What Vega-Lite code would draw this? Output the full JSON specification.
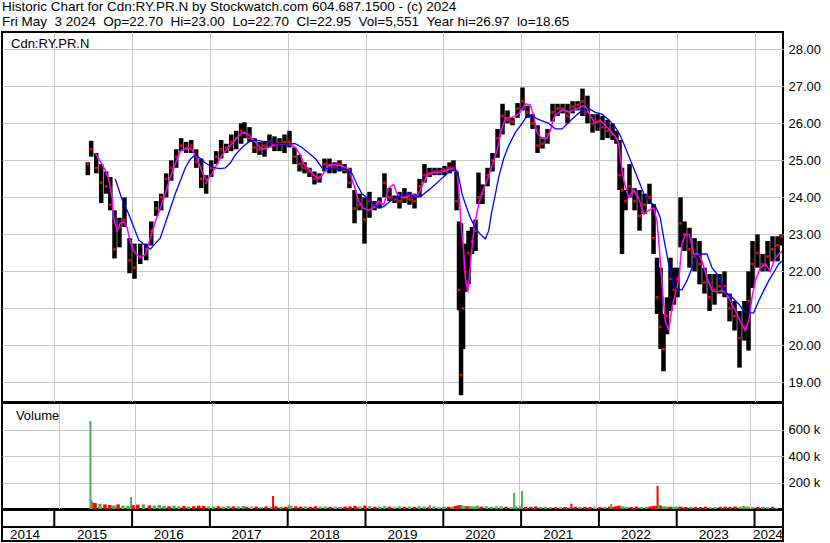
{
  "$schema": "https://vega.github.io/schema/vega-lite/v6.json",
  "background": "white",
  "padding": 0,
  "autosize": {"type": "pad"},
  "spacing": 1,
  "bounds": "flush",
  "config": {
    "font": "Liberation Sans",
    "view": {"stroke": "black", "strokeWidth": 2},
    "axis": {"labelFont": "Liberation Sans", "labelFontSize": 13, "labelColor": "black", "gridColor": "#c8c8c8", "gridWidth": 1, "gridOpacity": 1, "ticks": false, "domain": false},
    "title": {"font": "Liberation Sans", "fontWeight": "normal", "color": "black"}
  },
  "title": {
    "text": ["Historic Chart for Cdn:RY.PR.N by Stockwatch.com 604.687.1500 - (c) 2024", "Fri May\u00a0\u00a03 2024\u00a0\u00a0Op=22.70\u00a0\u00a0Hi=23.00\u00a0\u00a0Lo=22.70\u00a0\u00a0Cl=22.95\u00a0\u00a0Vol=5,551\u00a0\u00a0Year hi=26.97\u00a0\u00a0lo=18.65"],
    "anchor": "start", "fontSize": 13.5, "lineHeight": 14.5, "offset": 3, "dx": 2, "color": "black", "fontWeight": "normal"
  },
  "datasets": {
    "bars": [
      {"t":2015.431,"h":24.95,"l":24.6,"c":24.9},{"t":2015.474,"h":25.53,"l":25.1,"c":25.3},{"t":2015.539,"h":25.2,"l":24.65,"c":24.8},{"t":2015.603,"h":24.9,"l":23.85,"c":24.4},{"t":2015.667,"h":24.7,"l":24.1,"c":24.3},{"t":2015.72,"h":24.55,"l":23.65,"c":23.8},{"t":2015.774,"h":23.65,"l":22.35,"c":22.6},{"t":2015.838,"h":23.45,"l":22.65,"c":23.2},{"t":2015.902,"h":24.0,"l":23.2,"c":23.4},{"t":2015.967,"h":22.9,"l":21.95,"c":22.3},
      {"t":2016.031,"h":22.75,"l":21.8,"c":22.1},{"t":2016.105,"h":22.75,"l":22.2,"c":22.4},{"t":2016.181,"h":22.75,"l":22.3,"c":22.6},{"t":2016.246,"h":23.35,"l":22.7,"c":23.1},{"t":2016.31,"h":23.9,"l":23.5,"c":23.7},{"t":2016.374,"h":24.1,"l":23.65,"c":24.0},{"t":2016.438,"h":24.65,"l":24.0,"c":24.5},{"t":2016.503,"h":25.0,"l":24.45,"c":24.8},{"t":2016.567,"h":25.3,"l":24.8,"c":25.1},{"t":2016.631,"h":25.6,"l":25.25,"c":25.4},
      {"t":2016.695,"h":25.5,"l":25.2,"c":25.3},{"t":2016.76,"h":25.55,"l":25.2,"c":25.4},{"t":2016.824,"h":25.3,"l":24.8,"c":24.95},{"t":2016.888,"h":25.05,"l":24.25,"c":24.5},{"t":2016.952,"h":24.6,"l":24.1,"c":24.4},{"t":2017.017,"h":25.0,"l":24.55,"c":24.8},{"t":2017.081,"h":25.25,"l":24.9,"c":25.1},{"t":2017.145,"h":25.55,"l":25.05,"c":25.3},{"t":2017.21,"h":25.45,"l":25.2,"c":25.35},{"t":2017.274,"h":25.7,"l":25.25,"c":25.5},
      {"t":2017.338,"h":25.8,"l":25.3,"c":25.6},{"t":2017.402,"h":26.0,"l":25.45,"c":25.8},{"t":2017.445,"h":26.03,"l":25.6,"c":25.75},{"t":2017.509,"h":25.9,"l":25.5,"c":25.6},{"t":2017.573,"h":25.6,"l":25.2,"c":25.35},{"t":2017.638,"h":25.5,"l":25.15,"c":25.3},{"t":2017.702,"h":25.5,"l":25.1,"c":25.4},{"t":2017.766,"h":25.7,"l":25.35,"c":25.5},{"t":2017.83,"h":25.65,"l":25.25,"c":25.4},{"t":2017.895,"h":25.6,"l":25.25,"c":25.45},
      {"t":2017.959,"h":25.7,"l":25.2,"c":25.5},{"t":2018.023,"h":25.8,"l":25.35,"c":25.5},{"t":2018.087,"h":25.35,"l":24.9,"c":25.1},{"t":2018.152,"h":25.15,"l":24.7,"c":24.9},{"t":2018.216,"h":24.95,"l":24.65,"c":24.8},{"t":2018.28,"h":24.8,"l":24.55,"c":24.7},{"t":2018.344,"h":24.7,"l":24.35,"c":24.5},{"t":2018.409,"h":24.65,"l":24.4,"c":24.55},{"t":2018.473,"h":25.05,"l":24.7,"c":24.9},{"t":2018.537,"h":25.05,"l":24.65,"c":24.85},
      {"t":2018.602,"h":24.95,"l":24.65,"c":24.8},{"t":2018.666,"h":25.0,"l":24.7,"c":24.9},{"t":2018.73,"h":24.9,"l":24.65,"c":24.75},{"t":2018.794,"h":24.8,"l":24.25,"c":24.4},{"t":2018.859,"h":24.2,"l":23.3,"c":23.7},{"t":2018.923,"h":24.1,"l":23.65,"c":23.8},{"t":2018.987,"h":24.0,"l":22.75,"c":23.4},{"t":2019.051,"h":24.15,"l":23.45,"c":23.9},{"t":2019.116,"h":23.9,"l":23.65,"c":23.75},{"t":2019.18,"h":24.0,"l":23.7,"c":23.85},
      {"t":2019.244,"h":24.65,"l":24.0,"c":24.4},{"t":2019.308,"h":24.25,"l":23.9,"c":24.0},{"t":2019.373,"h":24.05,"l":23.85,"c":23.95},{"t":2019.437,"h":24.15,"l":23.7,"c":23.9},{"t":2019.501,"h":24.25,"l":23.85,"c":24.0},{"t":2019.566,"h":24.15,"l":23.8,"c":23.95},{"t":2019.63,"h":24.1,"l":23.7,"c":23.9},{"t":2019.694,"h":24.5,"l":24.0,"c":24.3},{"t":2019.758,"h":24.9,"l":24.4,"c":24.6},{"t":2019.823,"h":24.8,"l":24.55,"c":24.65},
      {"t":2019.887,"h":24.8,"l":24.6,"c":24.7},{"t":2019.951,"h":24.8,"l":24.6,"c":24.7},{"t":2020.015,"h":24.85,"l":24.6,"c":24.75},{"t":2020.08,"h":24.95,"l":24.65,"c":24.8},{"t":2020.131,"h":25.0,"l":24.7,"c":24.8},{"t":2020.17,"h":24.7,"l":23.65,"c":23.9},{"t":2020.202,"h":23.35,"l":20.95,"c":21.5},{"t":2020.228,"h":23.3,"l":18.65,"c":19.2},{"t":2020.253,"h":22.0,"l":19.9,"c":21.0},{"t":2020.285,"h":22.75,"l":21.45,"c":22.0},
      {"t":2020.324,"h":23.1,"l":21.65,"c":22.5},{"t":2020.369,"h":23.2,"l":22.47,"c":22.8},{"t":2020.414,"h":23.4,"l":22.55,"c":23.1},{"t":2020.452,"h":24.67,"l":23.82,"c":24.0},{"t":2020.504,"h":24.35,"l":23.82,"c":24.1},{"t":2020.568,"h":24.8,"l":24.3,"c":24.6},{"t":2020.632,"h":25.2,"l":24.7,"c":25.0},{"t":2020.697,"h":25.85,"l":25.07,"c":25.6},{"t":2020.761,"h":26.53,"l":25.7,"c":26.2},{"t":2020.825,"h":26.35,"l":26.0,"c":26.1},
      {"t":2020.889,"h":26.15,"l":25.95,"c":26.05},{"t":2020.954,"h":26.55,"l":26.15,"c":26.4},{"t":2021.018,"h":26.97,"l":26.35,"c":26.6},{"t":2021.082,"h":26.48,"l":26.15,"c":26.3},{"t":2021.147,"h":26.25,"l":25.85,"c":26.0},{"t":2021.211,"h":25.95,"l":25.2,"c":25.4},{"t":2021.275,"h":25.62,"l":25.32,"c":25.45},{"t":2021.339,"h":25.85,"l":25.45,"c":25.7},{"t":2021.404,"h":26.53,"l":26.05,"c":26.3},{"t":2021.468,"h":26.53,"l":26.2,"c":26.4},
      {"t":2021.532,"h":26.53,"l":26.27,"c":26.4},{"t":2021.596,"h":26.53,"l":26.0,"c":26.2},{"t":2021.661,"h":26.6,"l":26.27,"c":26.45},{"t":2021.725,"h":26.6,"l":26.35,"c":26.5},{"t":2021.789,"h":26.94,"l":26.2,"c":26.6},{"t":2021.853,"h":26.75,"l":26.0,"c":26.3},{"t":2021.918,"h":26.25,"l":25.75,"c":26.0},{"t":2021.982,"h":26.25,"l":25.8,"c":26.05},{"t":2022.046,"h":26.2,"l":25.55,"c":25.9},{"t":2022.111,"h":26.1,"l":25.6,"c":25.8},
      {"t":2022.175,"h":26.0,"l":25.55,"c":25.7},{"t":2022.226,"h":25.8,"l":25.45,"c":25.6},{"t":2022.265,"h":25.55,"l":24.2,"c":24.6},{"t":2022.297,"h":24.8,"l":22.47,"c":24.2},{"t":2022.342,"h":24.2,"l":23.65,"c":23.9},{"t":2022.393,"h":24.9,"l":24.0,"c":24.3},{"t":2022.458,"h":24.25,"l":23.65,"c":23.9},{"t":2022.522,"h":24.2,"l":23.1,"c":23.5},{"t":2022.586,"h":24.1,"l":23.55,"c":23.8},{"t":2022.65,"h":24.37,"l":23.82,"c":24.0},
      {"t":2022.702,"h":23.82,"l":22.47,"c":22.9},{"t":2022.747,"h":22.37,"l":20.85,"c":21.3},{"t":2022.792,"h":22.1,"l":19.9,"c":20.5},{"t":2022.83,"h":20.85,"l":19.3,"c":19.9},{"t":2022.875,"h":21.3,"l":20.3,"c":20.8},{"t":2022.92,"h":22.37,"l":20.93,"c":21.8},{"t":2022.965,"h":22.1,"l":21.1,"c":21.5},{"t":2023.01,"h":22.1,"l":21.3,"c":21.8},{"t":2023.049,"h":24.0,"l":22.65,"c":23.3},{"t":2023.1,"h":23.35,"l":22.55,"c":23.0},
      {"t":2023.164,"h":23.18,"l":22.1,"c":22.6},{"t":2023.229,"h":22.9,"l":22.0,"c":22.4},{"t":2023.293,"h":22.82,"l":21.65,"c":22.2},{"t":2023.357,"h":22.1,"l":21.4,"c":21.7},{"t":2023.422,"h":21.93,"l":20.93,"c":21.3},{"t":2023.486,"h":21.93,"l":21.1,"c":21.5},{"t":2023.55,"h":21.93,"l":21.4,"c":21.6},{"t":2023.614,"h":22.0,"l":21.3,"c":21.6},{"t":2023.679,"h":21.4,"l":20.65,"c":21.0},{"t":2023.743,"h":21.2,"l":20.4,"c":20.8},
      {"t":2023.807,"h":20.93,"l":19.4,"c":20.2},{"t":2023.871,"h":21.2,"l":20.13,"c":20.5},{"t":2023.923,"h":22.0,"l":19.86,"c":21.2},{"t":2023.974,"h":22.82,"l":21.55,"c":22.2},{"t":2024.038,"h":23.0,"l":22.1,"c":22.5},{"t":2024.103,"h":22.47,"l":22.0,"c":22.2},{"t":2024.167,"h":22.82,"l":22.0,"c":22.4},{"t":2024.231,"h":22.95,"l":22.27,"c":22.6},{"t":2024.296,"h":22.95,"l":22.27,"c":22.7},{"t":2024.347,"h":23.0,"l":22.7,"c":22.95}
    ],
    "mag": [
      {"t":2015.527,"v":25.2},{"t":2015.613,"v":24.9},{"t":2015.656,"v":24.73},{"t":2015.699,"v":24.5},{"t":2015.742,"v":24.0},{"t":2015.763,"v":23.45},{"t":2015.806,"v":23.1},{"t":2015.848,"v":23.3},{"t":2015.892,"v":23.35},{"t":2015.934,"v":23.19},{"t":2015.977,"v":22.8},{"t":2016.021,"v":22.55},{"t":2016.105,"v":22.37},{"t":2016.17,"v":22.45},{"t":2016.234,"v":22.9},{"t":2016.298,"v":23.35},{"t":2016.362,"v":23.7},{"t":2016.427,"v":24.1},{"t":2016.491,"v":24.55},{"t":2016.555,"v":24.9},{"t":2016.62,"v":25.25},{"t":2016.706,"v":25.35},{"t":2016.77,"v":25.3},{"t":2016.834,"v":25.05},{"t":2016.898,"v":24.7},{"t":2016.963,"v":24.45},{"t":2017.027,"v":24.65},{"t":2017.091,"v":24.9},{"t":2017.156,"v":25.15},{"t":2017.242,"v":25.35},{"t":2017.326,"v":25.55},{"t":2017.413,"v":25.75},{"t":2017.499,"v":25.7},{"t":2017.584,"v":25.5},{"t":2017.67,"v":25.3},{"t":2017.756,"v":25.35},{"t":2017.841,"v":25.45},{"t":2017.927,"v":25.45},{"t":2018.013,"v":25.45},{"t":2018.098,"v":25.35},{"t":2018.162,"v":25.15},{"t":2018.206,"v":24.9},{"t":2018.27,"v":24.77},{"t":2018.334,"v":24.6},{"t":2018.398,"v":24.5},{"t":2018.463,"v":24.65},{"t":2018.527,"v":24.88},{"t":2018.612,"v":24.88},{"t":2018.698,"v":24.85},{"t":2018.784,"v":24.77},{"t":2018.848,"v":24.35},{"t":2018.913,"v":23.9},{"t":2018.977,"v":23.7},{"t":2019.041,"v":23.65},{"t":2019.105,"v":23.72},{"t":2019.17,"v":23.9},{"t":2019.234,"v":23.8},{"t":2019.298,"v":24.25},{"t":2019.362,"v":24.35},{"t":2019.405,"v":24.1},{"t":2019.469,"v":24.0},{"t":2019.533,"v":24.0},{"t":2019.598,"v":24.1},{"t":2019.662,"v":24.0},{"t":2019.726,"v":24.3},{"t":2019.791,"v":24.6},{"t":2019.855,"v":24.66},{"t":2019.941,"v":24.67},{"t":2020.026,"v":24.72},{"t":2020.112,"v":24.78},{"t":2020.176,"v":24.72},{"t":2020.206,"v":24.0},{"t":2020.231,"v":23.2},{"t":2020.262,"v":22.55},{"t":2020.283,"v":21.83},{"t":2020.314,"v":21.43},{"t":2020.334,"v":21.83},{"t":2020.356,"v":22.37},{"t":2020.391,"v":23.1},{"t":2020.42,"v":23.45},{"t":2020.463,"v":23.9},{"t":2020.506,"v":24.17},{"t":2020.562,"v":24.45},{"t":2020.626,"v":24.85},{"t":2020.69,"v":25.25},{"t":2020.745,"v":25.8},{"t":2020.797,"v":26.15},{"t":2020.861,"v":26.15},{"t":2020.925,"v":26.2},{"t":2020.99,"v":26.3},{"t":2021.054,"v":26.53},{"t":2021.118,"v":26.5},{"t":2021.162,"v":26.2},{"t":2021.204,"v":25.75},{"t":2021.269,"v":25.6},{"t":2021.333,"v":25.6},{"t":2021.375,"v":25.8},{"t":2021.419,"v":26.15},{"t":2021.483,"v":26.3},{"t":2021.548,"v":26.37},{"t":2021.612,"v":26.3},{"t":2021.676,"v":26.37},{"t":2021.74,"v":26.42},{"t":2021.805,"v":26.48},{"t":2021.847,"v":26.4},{"t":2021.889,"v":26.2},{"t":2021.954,"v":26.0},{"t":2022.018,"v":26.07},{"t":2022.082,"v":25.95},{"t":2022.147,"v":25.8},{"t":2022.211,"v":25.65},{"t":2022.254,"v":25.45},{"t":2022.275,"v":25.07},{"t":2022.319,"v":24.45},{"t":2022.383,"v":24.0},{"t":2022.447,"v":24.2},{"t":2022.512,"v":23.97},{"t":2022.576,"v":23.55},{"t":2022.64,"v":23.65},{"t":2022.704,"v":23.72},{"t":2022.747,"v":23.35},{"t":2022.776,"v":22.65},{"t":2022.811,"v":21.65},{"t":2022.853,"v":20.65},{"t":2022.897,"v":20.4},{"t":2022.94,"v":21.02},{"t":2022.982,"v":21.4},{"t":2023.026,"v":21.75},{"t":2023.068,"v":22.75},{"t":2023.111,"v":23.0},{"t":2023.162,"v":23.0},{"t":2023.218,"v":22.47},{"t":2023.283,"v":22.47},{"t":2023.325,"v":22.28},{"t":2023.389,"v":21.83},{"t":2023.454,"v":21.48},{"t":2023.518,"v":21.45},{"t":2023.582,"v":21.48},{"t":2023.647,"v":21.4},{"t":2023.689,"v":21.2},{"t":2023.753,"v":20.93},{"t":2023.817,"v":20.65},{"t":2023.882,"v":20.4},{"t":2023.925,"v":20.65},{"t":2023.968,"v":21.3},{"t":2024.01,"v":21.75},{"t":2024.075,"v":22.1},{"t":2024.139,"v":22.2},{"t":2024.203,"v":22.0},{"t":2024.267,"v":22.37},{"t":2024.354,"v":22.55}
    ],
    "blu": [
      {"t":2015.784,"v":24.5},{"t":2015.87,"v":23.95},{"t":2015.956,"v":23.55},{"t":2016.021,"v":23.2},{"t":2016.085,"v":22.85},{"t":2016.17,"v":22.7},{"t":2016.234,"v":22.6},{"t":2016.298,"v":22.75},{"t":2016.362,"v":22.9},{"t":2016.427,"v":23.3},{"t":2016.491,"v":23.7},{"t":2016.555,"v":24.1},{"t":2016.62,"v":24.45},{"t":2016.684,"v":24.8},{"t":2016.748,"v":25.03},{"t":2016.812,"v":25.15},{"t":2016.877,"v":25.05},{"t":2016.941,"v":24.93},{"t":2017.005,"v":24.85},{"t":2017.069,"v":24.8},{"t":2017.134,"v":24.78},{"t":2017.198,"v":24.8},{"t":2017.262,"v":24.93},{"t":2017.326,"v":25.15},{"t":2017.413,"v":25.35},{"t":2017.499,"v":25.5},{"t":2017.584,"v":25.55},{"t":2017.67,"v":25.52},{"t":2017.756,"v":25.5},{"t":2017.841,"v":25.45},{"t":2017.969,"v":25.45},{"t":2018.098,"v":25.45},{"t":2018.184,"v":25.35},{"t":2018.27,"v":25.2},{"t":2018.355,"v":25.05},{"t":2018.441,"v":24.8},{"t":2018.527,"v":24.77},{"t":2018.656,"v":24.77},{"t":2018.74,"v":24.77},{"t":2018.827,"v":24.65},{"t":2018.891,"v":24.35},{"t":2018.955,"v":24.1},{"t":2019.019,"v":24.0},{"t":2019.084,"v":23.85},{"t":2019.17,"v":23.72},{"t":2019.234,"v":23.75},{"t":2019.319,"v":23.9},{"t":2019.383,"v":24.0},{"t":2019.469,"v":24.05},{"t":2019.555,"v":24.1},{"t":2019.64,"v":24.0},{"t":2019.726,"v":24.05},{"t":2019.812,"v":24.2},{"t":2019.897,"v":24.35},{"t":2019.983,"v":24.52},{"t":2020.09,"v":24.72},{"t":2020.154,"v":24.77},{"t":2020.198,"v":24.55},{"t":2020.24,"v":24.1},{"t":2020.283,"v":23.82},{"t":2020.347,"v":23.45},{"t":2020.411,"v":23.18},{"t":2020.476,"v":23.0},{"t":2020.54,"v":22.88},{"t":2020.584,"v":23.1},{"t":2020.617,"v":23.55},{"t":2020.661,"v":24.0},{"t":2020.712,"v":24.55},{"t":2020.776,"v":25.05},{"t":2020.841,"v":25.4},{"t":2020.925,"v":25.75},{"t":2021.012,"v":26.0},{"t":2021.076,"v":26.2},{"t":2021.14,"v":26.2},{"t":2021.204,"v":26.13},{"t":2021.269,"v":26.07},{"t":2021.355,"v":26.0},{"t":2021.44,"v":25.85},{"t":2021.526,"v":25.85},{"t":2021.612,"v":26.03},{"t":2021.697,"v":26.2},{"t":2021.783,"v":26.35},{"t":2021.869,"v":26.4},{"t":2021.954,"v":26.3},{"t":2022.04,"v":26.25},{"t":2022.126,"v":26.1},{"t":2022.211,"v":25.9},{"t":2022.275,"v":25.67},{"t":2022.339,"v":25.35},{"t":2022.425,"v":24.9},{"t":2022.512,"v":24.45},{"t":2022.576,"v":24.1},{"t":2022.64,"v":23.9},{"t":2022.725,"v":23.77},{"t":2022.789,"v":23.45},{"t":2022.833,"v":22.9},{"t":2022.897,"v":22.2},{"t":2022.961,"v":21.65},{"t":2023.004,"v":21.5},{"t":2023.068,"v":21.5},{"t":2023.132,"v":21.75},{"t":2023.197,"v":22.1},{"t":2023.261,"v":22.42},{"t":2023.325,"v":22.47},{"t":2023.389,"v":22.47},{"t":2023.454,"v":22.1},{"t":2023.518,"v":21.93},{"t":2023.582,"v":21.65},{"t":2023.647,"v":21.4},{"t":2023.711,"v":21.3},{"t":2023.797,"v":21.12},{"t":2023.861,"v":20.93},{"t":2023.925,"v":20.88},{"t":2023.99,"v":20.88},{"t":2024.054,"v":21.2},{"t":2024.118,"v":21.48},{"t":2024.183,"v":21.75},{"t":2024.247,"v":21.97},{"t":2024.311,"v":22.2},{"t":2024.354,"v":22.28}
    ],
    "vol": [
      {"t":2015.431,"v":50000,"d":"d"},{"t":2015.474,"v":45000,"d":"d"},{"t":2015.539,"v":40000,"d":"u"},{"t":2015.603,"v":35000,"d":"d"},{"t":2015.667,"v":30000,"d":"d"},{"t":2015.72,"v":27000,"d":"u"},{"t":2015.774,"v":35000,"d":"d"},{"t":2015.838,"v":25000,"d":"u"},{"t":2015.902,"v":23000,"d":"u"},{"t":2015.967,"v":31000,"d":"d"},
      {"t":2016.031,"v":33000,"d":"d"},{"t":2016.105,"v":35000,"d":"u"},{"t":2016.181,"v":27000,"d":"d"},{"t":2016.246,"v":25000,"d":"u"},{"t":2016.31,"v":30000,"d":"u"},{"t":2016.374,"v":23000,"d":"u"},{"t":2016.438,"v":21000,"d":"d"},{"t":2016.503,"v":25000,"d":"u"},{"t":2016.567,"v":20000,"d":"u"},{"t":2016.631,"v":23000,"d":"d"},
      {"t":2016.695,"v":19000,"d":"u"},{"t":2016.76,"v":21000,"d":"d"},{"t":2016.824,"v":25000,"d":"d"},{"t":2016.888,"v":23000,"d":"d"},{"t":2016.952,"v":20000,"d":"u"},{"t":2017.017,"v":19000,"d":"u"},{"t":2017.081,"v":21000,"d":"d"},{"t":2017.145,"v":18000,"d":"u"},{"t":2017.21,"v":23000,"d":"u"},{"t":2017.274,"v":20000,"d":"d"},
      {"t":2017.338,"v":19000,"d":"u"},{"t":2017.402,"v":22000,"d":"u"},{"t":2017.445,"v":17000,"d":"d"},{"t":2017.509,"v":20000,"d":"n"},{"t":2017.573,"v":18000,"d":"d"},{"t":2017.638,"v":16000,"d":"u"},{"t":2017.702,"v":19000,"d":"d"},{"t":2017.766,"v":17000,"d":"u"},{"t":2017.83,"v":21000,"d":"d"},{"t":2017.895,"v":18000,"d":"u"},
      {"t":2017.959,"v":17000,"d":"d"},{"t":2018.023,"v":23000,"d":"u"},{"t":2018.087,"v":20000,"d":"d"},{"t":2018.152,"v":18000,"d":"d"},{"t":2018.216,"v":19000,"d":"u"},{"t":2018.28,"v":17000,"d":"d"},{"t":2018.344,"v":21000,"d":"d"},{"t":2018.409,"v":18000,"d":"u"},{"t":2018.473,"v":20000,"d":"u"},{"t":2018.537,"v":17000,"d":"d"},
      {"t":2018.602,"v":19000,"d":"n"},{"t":2018.666,"v":16000,"d":"u"},{"t":2018.73,"v":18000,"d":"d"},{"t":2018.794,"v":20000,"d":"d"},{"t":2018.859,"v":23000,"d":"d"},{"t":2018.923,"v":19000,"d":"u"},{"t":2018.987,"v":25000,"d":"d"},{"t":2019.051,"v":21000,"d":"u"},{"t":2019.116,"v":17000,"d":"d"},{"t":2019.18,"v":19000,"d":"u"},
      {"t":2019.244,"v":22000,"d":"u"},{"t":2019.308,"v":18000,"d":"d"},{"t":2019.373,"v":17000,"d":"n"},{"t":2019.437,"v":20000,"d":"u"},{"t":2019.501,"v":17000,"d":"d"},{"t":2019.566,"v":19000,"d":"u"},{"t":2019.63,"v":16000,"d":"d"},{"t":2019.694,"v":21000,"d":"u"},{"t":2019.758,"v":18000,"d":"u"},{"t":2019.823,"v":17000,"d":"d"},
      {"t":2019.887,"v":19000,"d":"u"},{"t":2019.951,"v":16000,"d":"n"},{"t":2020.015,"v":18000,"d":"u"},{"t":2020.08,"v":17000,"d":"d"},{"t":2020.131,"v":19000,"d":"u"},{"t":2020.17,"v":23000,"d":"d"},{"t":2020.202,"v":27000,"d":"d"},{"t":2020.228,"v":30000,"d":"d"},{"t":2020.253,"v":25000,"d":"u"},{"t":2020.285,"v":23000,"d":"u"},
      {"t":2020.324,"v":20000,"d":"d"},{"t":2020.369,"v":21000,"d":"u"},{"t":2020.414,"v":19000,"d":"u"},{"t":2020.452,"v":25000,"d":"u"},{"t":2020.504,"v":18000,"d":"d"},{"t":2020.568,"v":20000,"d":"u"},{"t":2020.632,"v":17000,"d":"u"},{"t":2020.697,"v":19000,"d":"u"},{"t":2020.761,"v":21000,"d":"u"},{"t":2020.825,"v":17000,"d":"d"},
      {"t":2020.889,"v":16000,"d":"n"},{"t":2020.954,"v":18000,"d":"u"},{"t":2021.018,"v":20000,"d":"u"},{"t":2021.082,"v":17000,"d":"d"},{"t":2021.147,"v":16000,"d":"d"},{"t":2021.211,"v":19000,"d":"d"},{"t":2021.275,"v":15000,"d":"u"},{"t":2021.339,"v":17000,"d":"u"},{"t":2021.404,"v":15000,"d":"u"},{"t":2021.468,"v":14000,"d":"d"},
      {"t":2021.532,"v":16000,"d":"n"},{"t":2021.596,"v":15000,"d":"d"},{"t":2021.661,"v":14000,"d":"u"},{"t":2021.725,"v":17000,"d":"d"},{"t":2021.789,"v":15000,"d":"u"},{"t":2021.853,"v":16000,"d":"d"},{"t":2021.918,"v":14000,"d":"d"},{"t":2021.982,"v":17000,"d":"n"},{"t":2022.046,"v":15000,"d":"d"},{"t":2022.111,"v":16000,"d":"u"},
      {"t":2022.175,"v":18000,"d":"d"},{"t":2022.226,"v":17000,"d":"d"},{"t":2022.265,"v":21000,"d":"d"},{"t":2022.297,"v":25000,"d":"d"},{"t":2022.342,"v":20000,"d":"u"},{"t":2022.393,"v":17000,"d":"u"},{"t":2022.458,"v":16000,"d":"d"},{"t":2022.522,"v":19000,"d":"d"},{"t":2022.586,"v":15000,"d":"u"},{"t":2022.65,"v":17000,"d":"u"},
      {"t":2022.702,"v":19000,"d":"d"},{"t":2022.747,"v":23000,"d":"d"},{"t":2022.792,"v":25000,"d":"d"},{"t":2022.83,"v":27000,"d":"d"},{"t":2022.875,"v":21000,"d":"u"},{"t":2022.92,"v":19000,"d":"u"},{"t":2022.965,"v":17000,"d":"d"},{"t":2023.01,"v":16000,"d":"u"},{"t":2023.049,"v":20000,"d":"u"},{"t":2023.1,"v":18000,"d":"d"},
      {"t":2023.164,"v":15000,"d":"d"},{"t":2023.229,"v":17000,"d":"u"},{"t":2023.293,"v":16000,"d":"d"},{"t":2023.357,"v":15000,"d":"d"},{"t":2023.422,"v":18000,"d":"d"},{"t":2023.486,"v":14000,"d":"u"},{"t":2023.55,"v":15000,"d":"u"},{"t":2023.614,"v":16000,"d":"d"},{"t":2023.679,"v":17000,"d":"d"},{"t":2023.743,"v":15000,"d":"d"},
      {"t":2023.807,"v":19000,"d":"d"},{"t":2023.871,"v":17000,"d":"u"},{"t":2023.923,"v":20000,"d":"u"},{"t":2023.974,"v":18000,"d":"u"},{"t":2024.038,"v":16000,"d":"u"},{"t":2024.103,"v":15000,"d":"d"},{"t":2024.167,"v":17000,"d":"u"},{"t":2024.231,"v":14000,"d":"u"},{"t":2024.296,"v":16000,"d":"d"},{"t":2024.347,"v":6000,"d":"u"}
    ],
    "spk": [
      {"t":2015.414,"v":664000,"d":"u"},{"t":2015.427,"v":70000,"d":"u"},{"t":2015.943,"v":90000,"d":"u"},{"t":2017.792,"v":98000,"d":"d"},{"t":2018.0,"v":30000,"d":"u"},{"t":2019.837,"v":30000,"d":"u"},{"t":2020.931,"v":123000,"d":"u"},{"t":2021.033,"v":136000,"d":"u"},{"t":2021.676,"v":40000,"d":"d"},{"t":2022.194,"v":38000,"d":"u"},{"t":2022.798,"v":174000,"d":"d"},{"t":2022.811,"v":40000,"d":"u"},{"t":2023.916,"v":22000,"d":"u"}
    ],
    "yrs": [{"yr":2015},{"yr":2016},{"yr":2017},{"yr":2018},{"yr":2019},{"yr":2020},{"yr":2021},{"yr":2022},{"yr":2023},{"yr":2024}],
    "lbl": [{"label":"2014","mid":2014.624},{"label":"2015","mid":2015.485},{"label":"2016","mid":2016.472},{"label":"2017","mid":2017.47},{"label":"2018","mid":2018.475},{"label":"2019","mid":2019.476},{"label":"2020","mid":2020.476},{"label":"2021","mid":2021.478},{"label":"2022","mid":2022.477},{"label":"2023","mid":2023.476},{"label":"2024","mid":2024.174}]
  },
  "vconcat": [
    {
      "width": 781, "height": 370,
      "layer": [
        {
          "data": {"name": "bars"},
          "mark": {"type": "rule", "color": "black", "strokeWidth": 4.5, "clip": true},
          "encoding": {
            "x": {"field": "t", "type": "quantitative", "title": null, "scale": {"domain": [2014.328, 2024.366], "nice": false, "zero": false}, "axis": {"values": [2015,2016,2017,2018,2019,2020,2021,2022,2023,2024], "grid": true, "labels": false, "title": null}},
            "y": {"field": "l", "type": "quantitative", "title": null, "scale": {"domain": [18.47, 28.47], "nice": false, "zero": false}, "axis": {"orient": "right", "values": [19,19.5,20,20.5,21,21.5,22,22.5,23,23.5,24,24.5,25,25.5,26,26.5,27,27.5,28], "format": ".2f", "grid": true, "labelPadding": 5, "title": null}},
            "y2": {"field": "h"}
          }
        },
        {
          "data": {"name": "bars"},
          "mark": {"type": "square", "color": "#ff0000", "size": 7, "opacity": 1, "clip": true},
          "encoding": {
            "x": {"field": "t", "type": "quantitative", "title": null},
            "y": {"field": "c", "type": "quantitative", "title": null}
          }
        },
        {
          "data": {"name": "mag"},
          "mark": {"type": "line", "color": "#ff00ff", "strokeWidth": 1.5, "clip": true},
          "encoding": {
            "x": {"field": "t", "type": "quantitative", "title": null},
            "y": {"field": "v", "type": "quantitative", "title": null}
          }
        },
        {
          "data": {"name": "blu"},
          "mark": {"type": "line", "color": "#0000ff", "strokeWidth": 1.3, "clip": true},
          "encoding": {
            "x": {"field": "t", "type": "quantitative", "title": null},
            "y": {"field": "v", "type": "quantitative", "title": null}
          }
        },
        {
          "data": {"values": [{"name": "Cdn:RY.PR.N"}]},
          "mark": {"type": "text", "fontSize": 13, "font": "Liberation Sans", "color": "black", "align": "left", "baseline": "alphabetic"},
          "encoding": {
            "x": {"datum": 2014.444, "type": "quantitative"},
            "y": {"datum": 28.04, "type": "quantitative"},
            "text": {"field": "name"}
          }
        }
      ]
    },
    {
      "width": 781, "height": 106,
      "layer": [
        {
          "data": {"name": "vol"},
          "mark": {"type": "bar", "width": 3.5, "clip": true},
          "encoding": {
            "x": {"field": "t", "type": "quantitative", "title": null, "scale": {"domain": [2014.328, 2024.366], "nice": false, "zero": false}, "axis": {"values": [2015,2016,2017,2018,2019,2020,2021,2022,2023,2024], "grid": true, "labels": false, "title": null}},
            "y": {"field": "v", "type": "quantitative", "stack": null, "title": null, "scale": {"domain": [0, 800000], "nice": false}, "axis": {"orient": "right", "values": [200000, 400000, 600000], "labelExpr": "format(datum.value/1000, 'd') + ' k'", "grid": true, "labelPadding": 5, "title": null}},
            "color": {"field": "d", "type": "nominal", "scale": {"domain": ["u", "d", "n"], "range": ["#4caf50", "#ff0000", "#a0a0a0"]}, "legend": null}
          }
        },
        {
          "data": {"name": "spk"},
          "mark": {"type": "bar", "width": 2, "clip": true},
          "encoding": {
            "x": {"field": "t", "type": "quantitative", "title": null},
            "y": {"field": "v", "type": "quantitative", "stack": null, "title": null},
            "color": {"field": "d", "type": "nominal", "legend": null}
          }
        },
        {
          "data": {"values": [{"name": "Volume"}]},
          "mark": {"type": "text", "fontSize": 13, "font": "Liberation Sans", "color": "black", "align": "left", "baseline": "alphabetic"},
          "encoding": {
            "x": {"datum": 2014.444, "type": "quantitative"},
            "y": {"datum": 675000, "type": "quantitative"},
            "text": {"field": "name"}
          }
        }
      ]
    },
    {
      "width": 781, "height": 31,
      "layer": [
        {
          "data": {"values": [{}]},
          "mark": {"type": "rule", "color": "black", "strokeWidth": 2},
          "encoding": {
            "y": {"datum": 0.45, "type": "quantitative", "scale": {"domain": [0, 1], "nice": false}, "axis": null}
          }
        },
        {
          "data": {"name": "yrs"},
          "mark": {"type": "rule", "color": "black", "strokeWidth": 2},
          "encoding": {
            "x": {"field": "yr", "type": "quantitative", "scale": {"domain": [2014.328, 2024.366], "nice": false, "zero": false}, "axis": null},
            "y": {"datum": 0.45, "type": "quantitative"},
            "y2": {"datum": 1}
          }
        },
        {
          "data": {"name": "lbl"},
          "mark": {"type": "text", "fontSize": 13.5, "font": "Liberation Sans", "color": "black", "baseline": "middle", "align": "center"},
          "encoding": {
            "x": {"field": "mid", "type": "quantitative"},
            "y": {"datum": 0.2, "type": "quantitative"},
            "text": {"field": "label"}
          }
        }
      ]
    }
  ]
}
